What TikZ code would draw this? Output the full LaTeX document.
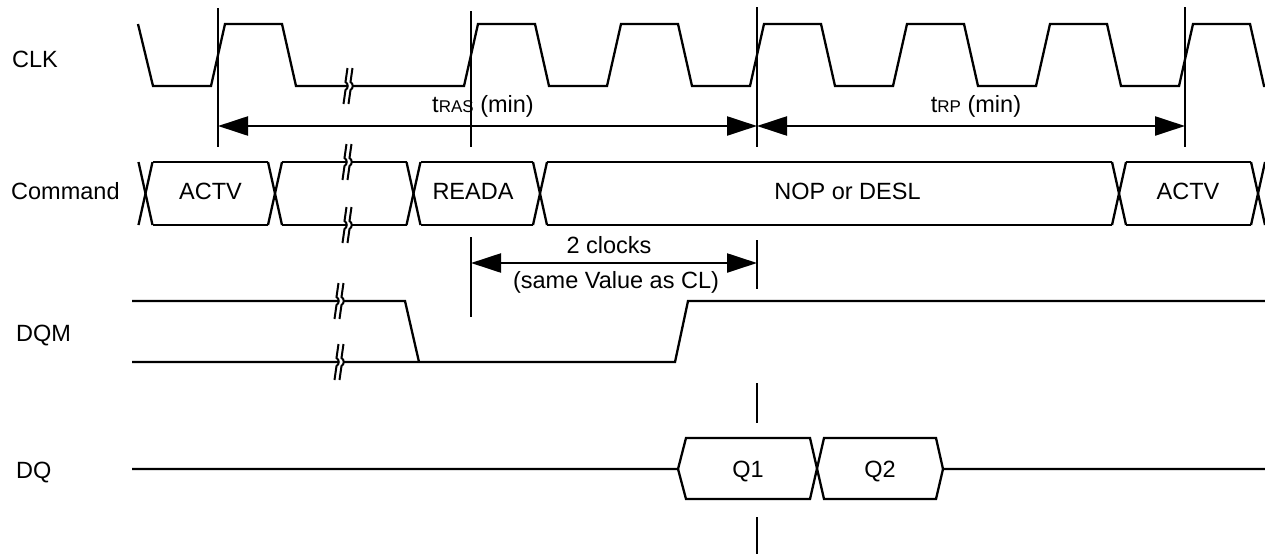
\documentclass[tikz,border=0pt]{standalone}
\usepackage{fontspec}
\setmainfont{Liberation Sans}
\usetikzlibrary{arrows.meta}
\newcommand\brkmark[2]{%
  \begin{scope}[shift={(#1,#2)}]
    \fill[white] (-0.5,-3.5) rectangle (5,3.5);
    \foreach \o in {-2.5,2.5}{%
      \draw[brkline] (\o+2,-18) -- (\o,-4) .. controls (\o+3,-2) and (\o+3,2) .. (\o,4) -- (\o-2,18);}
  \end{scope}}
\begin{document}
\begin{tikzpicture}[x=1pt,y=-1pt,
  sig/.style={line width=2.3pt, line join=miter},
  brkline/.style={line width=2pt},
  lbl/.style={font=\fontsize{23.5}{28}\selectfont, inner sep=0pt, anchor=base},
  dimarrow/.style={line width=2.3pt, {Triangle[length=30pt,width=19pt]}-{Triangle[length=30pt,width=19pt]}},
  vtick/.style={line width=2.3pt}]
\useasboundingbox (0,0) rectangle (1265,554);
\clip (0,0) rectangle (1265,554);

% signal labels
\node[lbl, anchor=base west] (lclk) at (12,67) {CLK};
\node[lbl, anchor=base west] (lcmd) at (11,199) {Command};
\node[lbl, anchor=base west] (ldqm) at (16,341) {DQM};
\node[lbl, anchor=base west] (ldq) at (16,478) {DQ};

% CLK
\draw[sig] (138,24) -- (153,86) -- (211,86) -- (225,24) -- (282,24) -- (296,86) -- (464,86)
  \foreach \r in {471,614,757,900,1043,1186}{
    -- (\r+7,24) -- (\r+64,24) -- (\r+78,86) -- (\r+136,86)};
\brkmark{348}{86}

% vertical reference lines
\coordinate (v1t) at (218,8);   \coordinate (v1b) at (218,147);
\coordinate (v2t) at (471,11);  \coordinate (v2b) at (471,147);
\coordinate (v3t) at (757,7);   \coordinate (v3b) at (757,147);
\coordinate (v4t) at (1185,7);  \coordinate (v4b) at (1185,147);
\draw[vtick] (v1t) -- (v1b);
\draw[vtick] (v2t) -- (v2b);
\draw[vtick] (v3t) -- (v3b);
\draw[vtick] (v4t) -- (v4b);

% tRAS / tRP
\coordinate (a1) at (218,126);
\coordinate (a2) at (757,126);
\coordinate (a3) at (1185,126);
\draw[dimarrow] (a1) -- (a2);
\draw[dimarrow] (a2) -- (a3);
\node[lbl] (tras) at (483,112) {t{\fontsize{17}{20}\selectfont RAS} (min)};
\node[lbl] (trp) at (976,112) {t{\fontsize{17}{20}\selectfont RP} (min)};

% Command bus
\def\ct{162}\def\cb{225}
\foreach \c in {145.5,275,413.5,540,1119,1258}{
  \draw[sig] (\c-7,\ct) -- (\c+7,\cb);
  \draw[sig] (\c+7,\ct) -- (\c-7,\cb);}
\foreach \a/\b in {145.5/275,275/413.5,413.5/540,540/1119,1119/1258,1258/1400}{
  \draw[sig] (\a+7,\ct) -- (\b-7,\ct);
  \draw[sig] (\a+7,\cb) -- (\b-7,\cb);}
\brkmark{347}{162}
\brkmark{347}{225}
\node[lbl] (c1) at (210.5,199) {ACTV};
\node[lbl] (c2) at (473,199) {READA};
\node[lbl] (c3) at (847.5,199) {NOP or DESL};
\node[lbl] (c4) at (1188,199) {ACTV};

% 2 clocks
\coordinate (w1t) at (471,237); \coordinate (w1b) at (471,317);
\coordinate (w2t) at (757,240); \coordinate (w2b) at (757,289);
\draw[vtick] (w1t) -- (w1b);
\draw[vtick] (w2t) -- (w2b);
\coordinate (b1) at (471,263);
\coordinate (b2) at (757,263);
\draw[dimarrow] (b1) -- (b2);
\node[lbl] (clk2) at (609,253) {2 clocks};
\node[lbl] (same) at (616,288) {(same Value as CL)};

% DQM
\draw[sig] (132,301) -- (405,301) -- (419,362);
\draw[sig] (132,362) -- (675,362) -- (688,301) -- (1265,301);
\brkmark{339}{301}
\brkmark{339}{362}

% DQ
\coordinate (x1t) at (757,383); \coordinate (x1b) at (757,423);
\coordinate (x2t) at (757,517); \coordinate (x2b) at (757,554);
\draw[vtick] (x1t) -- (x1b);
\draw[vtick] (x2t) -- (x2b);
\draw[sig] (132,469) -- (678,469) -- (686,438) -- (810,438) -- (824,499) -- (936,499) -- (943,469) -- (1265,469);
\draw[sig] (678,469) -- (686,499) -- (810,499) -- (824,438) -- (936,438) -- (943,469);
\node[lbl] (q1) at (748,477) {Q1};
\node[lbl] (q2) at (880,477) {Q2};
\end{tikzpicture}
\end{document}
